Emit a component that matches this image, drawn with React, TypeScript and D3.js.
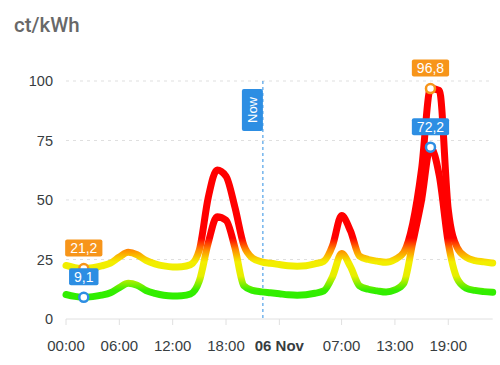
import React, { useRef, useEffect } from 'react';
import * as d3 from 'd3';

// hours since 05 Nov 00:00
const hours = d3.range(0, 49);

// price incl. fees (ct/kWh)
const grossPrice = [
  22.5, 21.6, 21.2, 21.5, 22.3, 23.5, 26.0, 28.0, 27.0, 24.6, 23.2, 22.3,
  21.9, 22.0, 22.8, 29.0, 51.0, 62.6, 60.0, 47.0, 31.0, 25.5, 24.0, 23.4,
  22.9, 22.4, 22.2, 22.4, 23.2, 24.3, 31.0, 43.5, 37.0, 26.5, 25.0, 24.3,
  23.8, 25.0, 28.0, 40.0, 63.0, 96.8, 96.0, 46.0, 30.0, 26.0, 24.5, 24.0,
  23.5,
];

// spot price (ct/kWh)
const netPrice = [
  10.3, 9.5, 9.1, 9.4, 10.0, 11.0, 13.2, 15.0, 14.2, 12.0, 10.8, 10.0,
  9.7, 9.8, 10.5, 16.0, 32.0, 43.0, 41.5, 30.0, 14.0, 12.0, 11.4, 11.0,
  10.6, 10.2, 10.0, 10.2, 10.8, 11.8, 18.0, 27.5, 22.0, 14.0, 12.5, 11.8,
  11.3, 12.2, 15.0, 32.0, 50.0, 72.2, 60.0, 32.0, 17.0, 13.0, 12.0, 11.5,
  11.2,
];

const tickHours = [0, 6, 12, 18, 24, 31, 37, 43];
const tickLabels = ['00:00', '06:00', '12:00', '18:00', '06 Nov', '07:00', '13:00', '19:00'];
const yTicks = [0, 25, 50, 75, 100];
const nowHour = 22.15;

// colour along the price axis
const gradientStops = [
  { value: 0, color: '#22ee00' },
  { value: 12, color: '#33ee00' },
  { value: 18, color: '#e6ee00' },
  { value: 24, color: '#f4ee00' },
  { value: 29, color: '#ff8c00' },
  { value: 34, color: '#ff0000' },
  { value: 100, color: '#ff0000' },
];

const ORANGE = '#f7951a';
const BLUE = '#2d8ee3';
const FONT = '"Liberation Sans", Arial, sans-serif';

const PriceChart = () => {
  const svgRef = useRef<SVGSVGElement>(null);

  useEffect(() => {
    const svg = d3.select(svgRef.current);
    svg.selectAll('*').remove();

    const x = d3.scaleLinear().domain([0, 48]).range([66, 492.7]);
    const y = d3.scaleLinear().domain([0, 100]).range([319, 81]);

    // title
    svg.append('text')
      .attr('x', 14).attr('y', 31.5)
      .attr('font-family', 'Roboto, sans-serif')
      .attr('font-size', 20.5).attr('font-weight', 500)
      .attr('fill', '#686868')
      .text('ct/kWh');

    // grid
    svg.append('g')
      .selectAll('line')
      .data(yTicks.filter(d => d > 0))
      .enter()
      .append('line')
      .attr('x1', x(0)).attr('x2', x(48))
      .attr('y1', d => y(d)).attr('y2', d => y(d))
      .attr('stroke', '#dfdfdf')
      .attr('stroke-dasharray', '3,4');

    // x axis line + ticks
    svg.append('line')
      .attr('x1', x(0)).attr('x2', x(48))
      .attr('y1', y(0)).attr('y2', y(0))
      .attr('stroke', '#e0e0e0');
    svg.append('g')
      .selectAll('line')
      .data(tickHours)
      .enter()
      .append('line')
      .attr('x1', d => x(d)).attr('x2', d => x(d))
      .attr('y1', y(0)).attr('y2', y(0) + 6)
      .attr('stroke', '#e0e0e0');

    // y labels
    svg.append('g')
      .selectAll('text')
      .data(yTicks)
      .enter()
      .append('text')
      .attr('x', 53).attr('y', d => y(d))
      .attr('dy', '0.35em')
      .attr('text-anchor', 'end')
      .attr('font-family', FONT).attr('font-size', 14.5)
      .attr('fill', '#373d3f')
      .text(d => d);

    // x labels
    svg.append('g')
      .selectAll('text')
      .data(tickHours)
      .enter()
      .append('text')
      .attr('x', d => x(d)).attr('y', 351)
      .attr('text-anchor', 'middle')
      .attr('font-family', FONT).attr('font-size', 15)
      .attr('font-weight', (d, i) => (tickLabels[i] === '06 Nov' ? 'bold' : 'normal'))
      .attr('fill', '#373d3f')
      .text((d, i) => tickLabels[i]);

    // gradient
    const grad = svg.append('defs').append('linearGradient')
      .attr('id', 'priceGrad')
      .attr('gradientUnits', 'userSpaceOnUse')
      .attr('x1', 0).attr('x2', 0)
      .attr('y1', y(0)).attr('y2', y(100));
    grad.selectAll('stop')
      .data(gradientStops)
      .enter()
      .append('stop')
      .attr('offset', d => d.value / 100)
      .attr('stop-color', d => d.color);

    // "Now" annotation
    const nx = x(nowHour);
    svg.append('line')
      .attr('x1', nx).attr('x2', nx)
      .attr('y1', y(100)).attr('y2', y(0))
      .attr('stroke', BLUE).attr('stroke-width', 1)
      .attr('stroke-dasharray', '3,3');

    const line = d3.line<number>()
      .x((d, i) => x(hours[i]))
      .y(d => y(d))
      .curve(d3.curveMonotoneX);

    [grossPrice, netPrice].forEach(series => {
      svg.append('path')
        .attr('d', line(series))
        .attr('fill', 'none')
        .attr('stroke', 'url(#priceGrad)')
        .attr('stroke-width', 7)
        .attr('stroke-linejoin', 'round')
        .attr('stroke-linecap', 'round');
    });

    const nowG = svg.append('g').attr('transform', `translate(${nx - 10.5}, ${y(100) + 29})`);
    const nowRect = nowG.append('rect');
    const nowText = nowG.append('text')
      .attr('transform', 'rotate(-90)')
      .attr('text-anchor', 'middle')
      .attr('dy', '0.35em')
      .attr('font-family', FONT).attr('font-size', 13)
      .attr('fill', '#fff')
      .text('Now');
    const nLen = (nowText.node() as SVGTextElement).getComputedTextLength();
    nowRect
      .attr('x', -10.5).attr('y', -(nLen / 2 + 8))
      .attr('width', 21).attr('height', nLen + 16)
      .attr('rx', 2)
      .attr('fill', BLUE);

    // min / max markers
    const fmt = (v: number) => d3.format('.1f')(v).replace('.', ',');
    const marks = [
      { series: grossPrice, color: ORANGE, pick: d3.maxIndex },
      { series: grossPrice, color: ORANGE, pick: d3.minIndex },
      { series: netPrice, color: BLUE, pick: d3.maxIndex },
      { series: netPrice, color: BLUE, pick: d3.minIndex },
    ];
    marks.forEach(m => {
      const i = m.pick(m.series);
      const px = x(hours[i]);
      const py = y(m.series[i]);
      svg.append('circle')
        .attr('cx', px).attr('cy', py).attr('r', 4.5)
        .attr('fill', '#fff')
        .attr('stroke', m.color).attr('stroke-width', 2.5);
      const g = svg.append('g');
      const r = g.append('rect');
      const t = g.append('text')
        .attr('x', px).attr('y', py - 20.5)
        .attr('dy', '0.35em')
        .attr('text-anchor', 'middle')
        .attr('font-family', FONT).attr('font-size', 14)
        .attr('fill', '#fff')
        .text(fmt(m.series[i]));
      const w = (t.node() as SVGTextElement).getComputedTextLength() + 10;
      r.attr('x', px - w / 2).attr('y', py - 29)
        .attr('width', w).attr('height', 17)
        .attr('rx', 2)
        .attr('fill', m.color);
    });
  }, []);

  return (
    <svg
      ref={svgRef}
      width={500}
      height={365}
      style={{ position: 'absolute', left: 0, top: 0, background: '#fff' }}
    />
  );
};

export default function App() {
  return <PriceChart />;
}
